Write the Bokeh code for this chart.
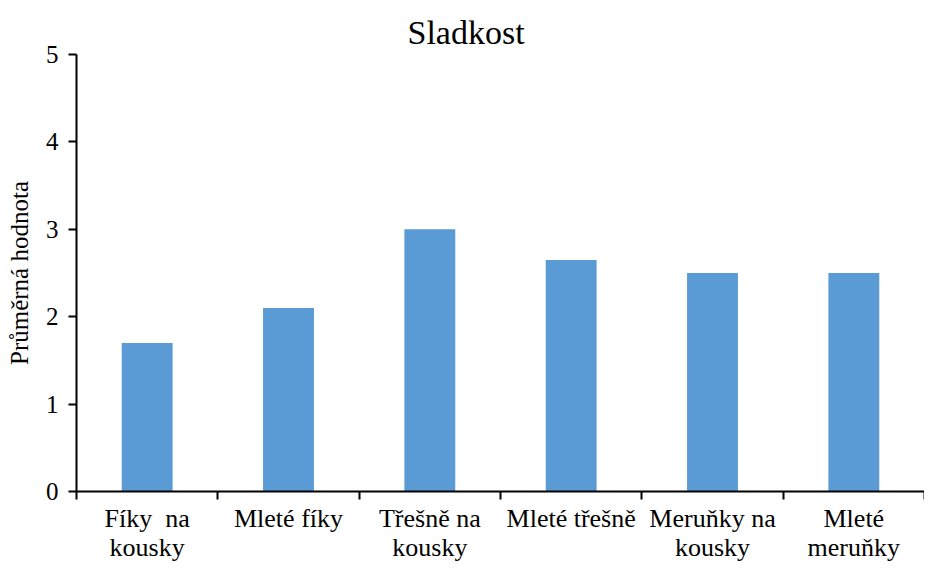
from bokeh.plotting import figure
from bokeh.models import FixedTicker, Range1d, ColumnDataSource
from bokeh.embed import file_html
from bokeh.resources import INLINE

categories = ["Fíky\u00a0 na\nkousky", "Mleté fíky", "Třešně na\nkousky", "Mleté třešně", "Meruňky na\nkousky", "Mleté\nmeruňky"]
values = [1.7, 2.1, 3.0, 2.65, 2.5, 2.5]
y_ticks = [0, 1, 2, 3, 4, 5]

FONT = "Liberation Serif"
centers = [i + 0.5 for i in range(len(categories))]
src = ColumnDataSource(dict(x=centers, top=values))

p = figure(width=924, height=564, output_backend="svg", toolbar_location=None,
           x_range=Range1d(0, len(categories)), y_range=Range1d(0, 5),
           min_border_left=76, min_border_right=0, min_border_top=54, min_border_bottom=40)

p.vbar(x="x", top="top", width=0.36, bottom=0, source=src, color="#5B9BD5", line_color=None)

p.title.text = "Sladkost"
p.title.text_font = FONT
p.title.text_font_size = "34px"
p.title.text_font_style = "normal"
p.title.align = "left"
p.title.offset = 331
p.title.text_color = "black"
p.title.standoff = 8

p.grid.visible = False
p.outline_line_color = None
p.background_fill_color = "white"

xa = p.xaxis[0]
xa.axis_label = None
xa.axis_label_standoff = 0
xa.ticker = FixedTicker(ticks=centers, minor_ticks=list(range(len(categories) + 1)))
xa.major_label_overrides = {c: lab for c, lab in zip(centers, categories)}
xa.major_tick_out = 0
xa.major_tick_in = 0
xa.minor_tick_out = 8
xa.minor_tick_in = 0
xa.minor_tick_line_color = "black"
xa.minor_tick_line_width = 2
xa.axis_line_color = "black"
xa.axis_line_width = 2
xa.major_label_text_font = FONT
xa.major_label_text_font_size = "26px"
xa.major_label_text_color = "black"
xa.major_label_text_line_height = 1.0
xa.major_label_standoff = 4

ya = p.yaxis[0]
ya.ticker = FixedTicker(ticks=y_ticks)
ya.minor_tick_line_color = None
ya.major_tick_out = 8
ya.major_tick_in = 0
ya.major_tick_line_width = 2
ya.major_tick_line_color = "black"
ya.axis_line_color = "black"
ya.axis_line_width = 2
ya.major_label_text_font = FONT
ya.major_label_text_font_size = "25px"
ya.major_label_text_color = "black"
ya.major_label_standoff = 10
ya.axis_label = "Průměrná hodnota"
ya.axis_label_text_font = FONT
ya.axis_label_text_font_size = "25px"
ya.axis_label_text_font_style = "normal"
ya.axis_label_text_color = "black"
ya.axis_label_standoff = 10

open("out.html", "w").write(file_html(p, INLINE))
